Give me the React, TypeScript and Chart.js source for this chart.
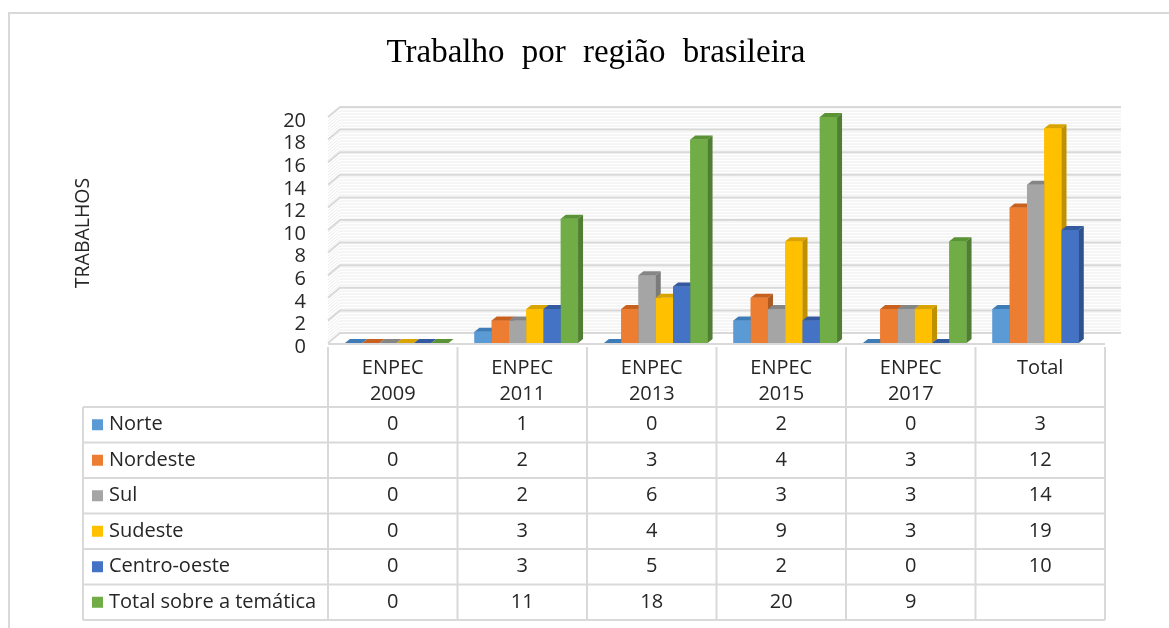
import { useEffect, useRef } from "react";
import { Chart, registerables } from "chart.js";

Chart.register(...registerables);

// ---------- data ----------
const chartTitle = "Trabalho por região brasileira";
const yAxisTitle = "TRABALHOS";
const categories: string[][] = [
  ["ENPEC", "2009"],
  ["ENPEC", "2011"],
  ["ENPEC", "2013"],
  ["ENPEC", "2015"],
  ["ENPEC", "2017"],
  ["Total"],
];
const seriesNames = ["Norte", "Nordeste", "Sul", "Sudeste", "Centro-oeste", "Total sobre a temática"];
const norte = [0, 1, 0, 2, 0, 3];
const nordeste = [0, 2, 3, 4, 3, 12];
const sul = [0, 2, 6, 3, 3, 14];
const sudeste = [0, 3, 4, 9, 3, 19];
const centroOeste = [0, 3, 5, 2, 0, 10];
const totalTematica: (number | null)[] = [0, 11, 18, 20, 9, null];
const yMin = 0;
const yMax = 20;
const yStep = 2;

// ---------- styles ----------
const frontColors = ["#5B9BD5", "#ED7D31", "#A5A5A5", "#FFC000", "#4472C4", "#70AD47"];
const topColors = ["#3E7CB8", "#C8611E", "#858585", "#D9A300", "#33599F", "#5A9236"];
const sideColors = ["#41719C", "#AE5A21", "#7B7B7B", "#BF9000", "#2F528F", "#507E32"];
const TEXT = "#262626";
const GRID = "#d9d9d9";
const SANS = "'Open Sans', sans-serif";

const W = 1169;
const H = 628;

const seriesData = [norte, nordeste, sul, sudeste, centroOeste, totalTematica];

const excelPlugin = {
  id: "excel3d",
  beforeDatasetsDraw(chart: any) {
    const ctx = chart.ctx as CanvasRenderingContext2D;
    const ys = chart.scales.y;
    const xs = chart.scales.x;
    ctx.save();
    // outer border
    ctx.strokeStyle = GRID;
    ctx.lineWidth = 2;
    ctx.beginPath();
    ctx.moveTo(9, H + 5);
    ctx.lineTo(9, 13);
    ctx.lineTo(W + 5, 13);
    ctx.stroke();

    // title
    ctx.fillStyle = "#000";
    ctx.font = "33px 'Liberation Serif', serif";
    ctx.textAlign = "center";
    ctx.textBaseline = "middle";
    try {
      (ctx as any).wordSpacing = "9px";
    } catch (e) {}
    ctx.fillText(chartTitle, 596, 53);
    try {
      (ctx as any).wordSpacing = "0px";
    } catch (e) {}

    // y axis title
    ctx.save();
    ctx.translate(83, 233);
    ctx.rotate(-Math.PI / 2);
    ctx.font = `19.5px ${SANS}`;
    ctx.fillStyle = TEXT;
    ctx.fillText(yAxisTitle, 0, 0);
    ctx.restore();

    // 3D walls
    const DX = 12;
    const DY = 10;
    const colL = xs.left - 4;
    const colR = xs.right - 4;
    const backR = colR + DX + 4;
    const yBottom = ys.getPixelForValue(yMin);
    const yTop = ys.getPixelForValue(yMax);
    ctx.lineWidth = 1;
    ctx.strokeStyle = "#ececec";
    for (let y = yBottom; y >= yTop - 0.5; y -= 3) {
      ctx.beginPath();
      ctx.moveTo(colL, y);
      ctx.lineTo(colL + DX, y - DY);
      ctx.lineTo(backR, y - DY);
      ctx.stroke();
    }
    ctx.lineWidth = 2;
    ctx.strokeStyle = GRID;
    for (let v = yMin; v <= yMax; v += yStep) {
      const y = ys.getPixelForValue(v);
      ctx.beginPath();
      ctx.moveTo(colL, y);
      ctx.lineTo(colL + DX, y - DY);
      ctx.lineTo(backR, y - DY);
      ctx.stroke();
    }
    // floor front edge
    ctx.beginPath();
    ctx.moveTo(colL, yBottom + 1);
    ctx.lineTo(colR, yBottom + 1);
    ctx.stroke();
    ctx.restore();
  },
  afterDatasetsDraw(chart: any) {
    const ctx = chart.ctx as CanvasRenderingContext2D;
    const BDX = 5;
    const BDY = 4;
    ctx.save();
    const n = categories.length;
    for (let i = 0; i < n; i++) {
      for (let d = 0; d < seriesData.length; d++) {
        const v = seriesData[d][i];
        if (v === null || v === undefined) continue;
        const el = chart.getDatasetMeta(d).data[i];
        const left = el.x - el.width / 2;
        const right = el.x + el.width / 2;
        const top = el.y;
        const base = el.base;
        ctx.fillStyle = frontColors[d];
        ctx.fillRect(left, top, right - left, base - top);
        ctx.fillStyle = topColors[d];
        ctx.beginPath();
        ctx.moveTo(left, top);
        ctx.lineTo(left + BDX, top - BDY);
        ctx.lineTo(right + BDX, top - BDY);
        ctx.lineTo(right, top);
        ctx.closePath();
        ctx.fill();
        ctx.fillStyle = sideColors[d];
        ctx.beginPath();
        ctx.moveTo(right, top);
        ctx.lineTo(right + BDX, top - BDY);
        ctx.lineTo(right + BDX, base - BDY);
        ctx.lineTo(right, base);
        ctx.closePath();
        ctx.fill();
      }
    }
    ctx.restore();
  },
  afterDraw(chart: any) {
    const ctx = chart.ctx as CanvasRenderingContext2D;
    const xs = chart.scales.x;
    const ys = chart.scales.y;
    const n = categories.length;
    const colL = xs.left - 4;
    const colW = (xs.right - xs.left) / n;
    const colR = colL + colW * n;
    const headerTop = ys.getPixelForValue(yMin) + 4;
    const tableTop = 407;
    const rowH = 35.5;
    const tableLeft = 83;
    const rows = seriesNames.length;
    const tableBottom = tableTop + rowH * rows;
    ctx.save();
    ctx.strokeStyle = GRID;
    ctx.lineWidth = 2;
    for (let c = 0; c <= n; c++) {
      const x = colL + colW * c;
      ctx.beginPath();
      ctx.moveTo(x, headerTop);
      ctx.lineTo(x, tableBottom);
      ctx.stroke();
    }
    ctx.beginPath();
    ctx.moveTo(tableLeft, tableTop);
    ctx.lineTo(tableLeft, tableBottom);
    ctx.stroke();
    for (let r = 0; r <= rows; r++) {
      const y = tableTop + rowH * r;
      ctx.beginPath();
      ctx.moveTo(tableLeft, y);
      ctx.lineTo(colR, y);
      ctx.stroke();
    }
    ctx.fillStyle = TEXT;
    ctx.font = `20px ${SANS}`;
    ctx.textAlign = "center";
    ctx.textBaseline = "middle";
    for (let c = 0; c < n; c++) {
      const cx = colL + colW * (c + 0.5);
      const lines = categories[c];
      lines.forEach((t, k) => ctx.fillText(t, cx, 368 + k * 26));
    }
    for (let r = 0; r < rows; r++) {
      const cy = tableTop + rowH * (r + 0.5);
      ctx.fillStyle = frontColors[r];
      ctx.fillRect(92, cy - 5.5, 11, 11);
      ctx.fillStyle = TEXT;
      ctx.textAlign = "left";
      ctx.fillText(seriesNames[r], 109, cy);
      ctx.textAlign = "center";
      for (let c = 0; c < n; c++) {
        const v = seriesData[r][c];
        const cx = colL + colW * (c + 0.5);
        if (v !== null && v !== undefined) ctx.fillText(String(v), cx, cy);
      }
    }
    ctx.restore();
  },
};

export default function App() {
  const ref = useRef<HTMLCanvasElement | null>(null);
  useEffect(() => {
    document.body.style.margin = "0";
    const canvas = ref.current;
    if (!canvas) return;
    const chart = new Chart(canvas, {
      type: "bar",
      data: {
        labels: categories.map((c) => c.join(" ")),
        datasets: seriesNames.map((name, d) => ({
          label: name,
          data: seriesData[d] as any,
          backgroundColor: frontColors[d],
          borderWidth: 0,
          categoryPercentage: 0.8,
          barPercentage: 1.0,
        })),
      },
      options: {
        responsive: false,
        animation: false,
        devicePixelRatio: 1,
        layout: { padding: { top: 117, bottom: H - 343, left: 0, right: 60 } },
        plugins: {
          legend: { display: false },
          title: { display: false },
          tooltip: { enabled: false },
        },
        scales: {
          x: { display: false, offset: true },
          y: {
            min: yMin,
            max: yMax,
            ticks: {
              stepSize: yStep,
              autoSkip: false,
              padding: 26,
              labelOffset: 4,
              color: TEXT,
              font: { family: SANS, size: 20 },
            },
            grid: { display: false, drawTicks: false },
            border: { display: false },
            afterFit: (s: any) => {
              s.width = 332;
            },
          },
        },
      },
      plugins: [excelPlugin],
    });
    return () => chart.destroy();
  }, []);
  return (
    <div style={{ width: W, height: H, position: "relative", background: "#fff" }}>
      <canvas ref={ref} width={W} height={H} style={{ display: "block" }} />
    </div>
  );
}
